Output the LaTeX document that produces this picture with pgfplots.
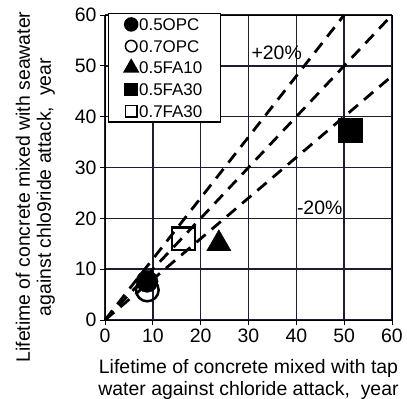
\documentclass[border=0pt]{standalone}
\usepackage{pgfplots}
\pgfplotsset{compat=1.18}
\usepackage{fontspec}
\setmainfont{Liberation Sans}
\definecolor{gridc}{RGB}{30,30,50}
\begin{document}
\begin{tikzpicture}
\begin{axis}[
  name=main,
  scale only axis, width=287bp, height=305bp,
  xmin=0, xmax=60, ymin=0, ymax=60,
  xtick={0,10,...,60}, ytick={0,10,...,60},
  xmajorgrids, ymajorgrids, major grid style={gridc, line width=1.5bp},
  axis line style={black, line width=0.9bp},
  tick align=outside, tick pos=left, major tick length=5bp,
  every tick/.style={black, line width=0.8bp},
  /pgf/number format/assume math mode=true,
  ticklabel style={font=\fontsize{19.5}{22}\selectfont},
  xlabel={Lifetime of concrete mixed with tap\\water against chloride attack,\ \ year},
  ylabel={Lifetime of concrete mixed with seawater\\against chlo9ride attack,\ \ year},
  xlabel style={at={([yshift=-39bp]axis description cs:0.5,0)}, anchor=north, inner sep=0pt, align=center, font=\fontsize{19.5}{22}\selectfont},
  ylabel style={at={([xshift=-50bp]axis description cs:0,0.436)}, anchor=south, inner sep=0pt, align=center, font=\fontsize{19.5}{21}\selectfont},
  legend style={at={(0.0105,1.0066)}, anchor=north west, draw=black, line width=1.2bp,
    font=\fontsize{17}{21.7}\selectfont, inner xsep=2bp, inner ysep=0bp,
    row sep=0pt, column sep=0pt,
    nodes={inner xsep=1bp, inner ysep=0bp, text width=78bp, align=left, text height=17bp, text depth=4.7bp}},
  legend cell align=left,
  legend image code/.code={\path (-20bp,0bp) (6bp,0bp); \draw[#1, line width=1.5bp] plot coordinates {(0bp,0bp)};},
  clip=false,
]
\addlegendimage{only marks, mark=*, mark size=6.5bp, black}
\addlegendentry{0.5OPC}
\addlegendimage{only marks, mark=o, mark size=5.8bp, black, mark options={fill=white}}
\addlegendentry{0.7OPC}
\addlegendimage{only marks, mark=triangle*, mark size=8bp, black}
\addlegendentry{0.5FA10}
\addlegendimage{only marks, mark=square*, mark size=6bp, black}
\addlegendentry{0.5FA30}
\addlegendimage{only marks, mark=square, mark size=5.8bp, black, mark options={fill=white}}
\addlegendentry{0.7FA30}

\addplot[forget plot, black, line width=2.8bp, dash pattern=on 12bp off 8bp] coordinates {(0,0) (60,60)};
\addplot[forget plot, black, line width=2.8bp, dash pattern=on 12bp off 8bp] coordinates {(0,0) (50,60)};
\addplot[forget plot, black, line width=2.8bp, dash pattern=on 12bp off 8bp] coordinates {(0,0) (60,48)};

\addplot[forget plot, only marks, mark=*, mark size=11bp, black] coordinates {(8.8,7.6)};
\addplot[forget plot, only marks, mark=o, mark size=11.3bp, black, line width=2.5bp, mark options={fill=white}] coordinates {(8.85,5.9)};
\addplot[forget plot, only marks, mark=triangle*, mark size=14bp, black] coordinates {(23.8,15.0)};
\addplot[forget plot, only marks, mark=square*, mark size=12bp, black] coordinates {(51.3,37.4)};
\addplot[forget plot, only marks, mark=square, mark size=11.3bp, black, line width=2.4bp, mark options={fill=white}] coordinates {(16.4,16.0)};

\node[anchor=base west, font=\fontsize{19.5}{22}\selectfont, inner sep=0pt] at (axis cs:30.6,51.3) {+20\%};
\node[anchor=base west, font=\fontsize{19.5}{22}\selectfont, inner sep=0pt] at (axis cs:40.1,20.8) {-20\%};
\end{axis}
\pgfresetboundingbox
\path ([shift={(-105bp,-79bp)}]main.south west) rectangle ([shift={(302bp,320bp)}]main.south west);
\end{tikzpicture}
\end{document}
